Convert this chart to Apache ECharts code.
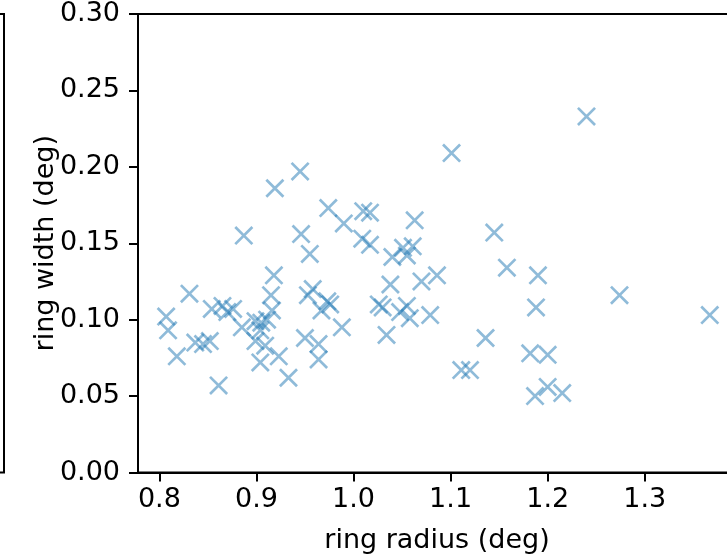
<!DOCTYPE html>
<html>
<head>
<meta charset="utf-8">
<script src="https://cdn.jsdelivr.net/npm/echarts@6/dist/echarts.min.js"></script>
<style>
  html, body { margin: 0; padding: 0; background: #fff; }
  #chart { width: 727px; height: 555px; }
</style>
</head>
<body>
<div id="chart"></div>
<script>
// ring radius (deg) of each measured ring
var ringRadius = [
    1.240, 1.101, 0.945, 0.919, 0.974, 1.010, 1.017, 0.990, 1.063, 1.145,
    0.887, 0.946, 1.009, 1.017, 0.955, 1.040, 1.051, 1.055, 1.061, 1.158,
    0.918, 1.086, 1.190, 1.070, 1.038, 0.831, 0.958, 0.953, 0.915, 0.916,
    0.973, 0.976, 0.967, 1.026, 1.030, 1.055, 1.048, 1.058, 1.079, 1.188,
    1.274, 1.367, 0.807, 0.809, 0.854, 0.865, 0.870, 0.876, 0.885, 0.899,
    0.905, 0.911, 0.904, 0.837, 0.845, 0.852, 0.899, 0.909, 0.988, 1.034,
    0.950, 0.964, 0.964, 1.136, 1.182, 1.200, 1.111, 1.120, 1.200, 1.187,
    1.215, 0.818, 0.904, 0.923, 0.933, 0.861
];
// ring width (deg), same order
var ringWidth = [
    0.233, 0.209, 0.197, 0.186, 0.173, 0.171, 0.170, 0.163, 0.165, 0.157,
    0.155, 0.156, 0.153, 0.149, 0.143, 0.141, 0.147, 0.142, 0.148, 0.134,
    0.129, 0.129, 0.129, 0.125, 0.123, 0.117, 0.120, 0.116, 0.116, 0.106,
    0.112, 0.110, 0.106, 0.110, 0.108, 0.109, 0.105, 0.101, 0.103, 0.108,
    0.116, 0.103, 0.102, 0.093, 0.107, 0.109, 0.105, 0.107, 0.095, 0.099,
    0.098, 0.100, 0.093, 0.085, 0.084, 0.086, 0.086, 0.083, 0.095, 0.090,
    0.088, 0.084, 0.074, 0.088, 0.078, 0.077, 0.067, 0.067, 0.056, 0.050,
    0.052, 0.076, 0.072, 0.076, 0.062, 0.057
];
var xTicks = [0.8, 0.9, 1.0, 1.1, 1.2, 1.3];

var points = ringRadius.map(function (r, i) { return [r, ringWidth[i]]; });

// matplotlib style 'x' marker
var crossPath = 'path://M0,1.9L1.9,0L19,17.1L17.1,19ZM17.1,0L19,1.9L1.9,19L0,17.1Z';

var font = 'DejaVu Sans';
var axisLine = { show: true, onZero: false, lineStyle: { color: '#000', width: 2 } };
var axisTick = { show: true, inside: false, length: 9, lineStyle: { color: '#000', width: 2 } };

var chart = echarts.init(document.getElementById('chart'));

var option = {
    animation: false,
    backgroundColor: '#fff',
    // plot box runs past the right edge of the picture
    grid: {
        left: 138, top: 14, width: 598, height: 458.5,
        outerBoundsMode: 'none',
        show: true, borderColor: '#000', borderWidth: 2, backgroundColor: 'transparent'
    },
    xAxis: {
        type: 'value',
        min: 0.778, max: 1.394,
        name: 'ring radius (deg)',
        nameLocation: 'middle',
        nameGap: 55,
        nameMoveOverlap: false,
        nameTextStyle: { fontFamily: font, fontSize: 27, color: '#000' },
        axisLine: axisLine,
        axisTick: Object.assign({ customValues: xTicks }, axisTick),
        axisLabel: {
            customValues: xTicks,
            formatter: function (v) { return v.toFixed(1); },
            fontFamily: font, fontSize: 27, color: '#000', margin: 14
        },
        splitLine: { show: false }
    },
    yAxis: {
        type: 'value',
        min: 0, max: 0.30, interval: 0.05,
        name: 'ring width (deg)',
        nameLocation: 'middle',
        nameGap: 79,
        nameMoveOverlap: false,
        nameTextStyle: { fontFamily: font, fontSize: 27, color: '#000' },
        axisLine: axisLine,
        axisTick: axisTick,
        axisLabel: {
            formatter: function (v) { return v.toFixed(2); },
            fontFamily: font, fontSize: 27, color: '#000', margin: 18
        },
        splitLine: { show: false }
    },
    graphic: [{
        // edge of the neighbouring panel, cut by the image border
        type: 'polyline',
        shape: { points: [[0, 14], [4, 14], [4, 472.5], [0, 472.5]] },
        style: { stroke: '#000', lineWidth: 2, fill: null }
    }],
    series: [{
        type: 'scatter',
        data: points,
        symbol: crossPath,
        symbolSize: 19,
        itemStyle: { color: '#1f77b4', opacity: 0.5 }
    }]
};

chart.setOption(option);
</script>
</body>
</html>
